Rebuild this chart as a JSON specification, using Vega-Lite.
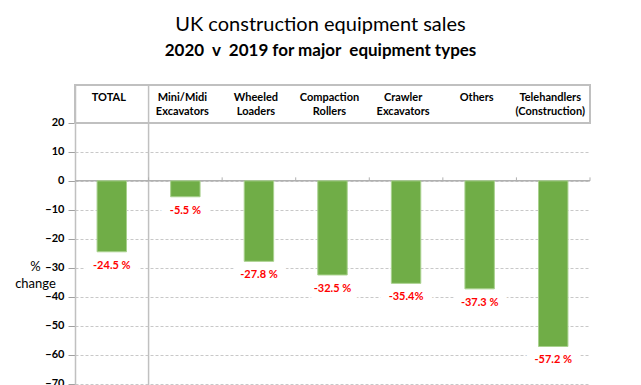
{
  "$schema": "https://vega.github.io/schema/vega-lite/v6.json",
  "autosize": "none",
  "width": 515,
  "height": 300,
  "padding": {"left": 75, "top": 85, "right": 51, "bottom": 0},
  "background": "white",
  "config": {"view": {"stroke": null}, "font": "Lato"},
  "title": {
    "text": "UK construction equipment sales",
    "subtitle": "2020\u00a0 v\u00a0 2019 for major\u00a0 equipment types",
    "fontSize": 20,
    "fontWeight": "normal",
    "font": "Lato",
    "subtitleFont": "Lato",
    "subtitleFontSize": 17,
    "subtitleFontWeight": "bold",
    "color": "black",
    "subtitleColor": "black",
    "anchor": "middle",
    "offset": 25,
    "subtitlePadding": 8,
    "dx": -12
  },
  "datasets": {
    "bars": [
      {"cat": "TOTAL", "value": -24.5, "label": "-24.5 %"},
      {"cat": "Mini/Midi Excavators", "value": -5.5, "label": "-5.5 %"},
      {"cat": "Wheeled Loaders", "value": -27.8, "label": "-27.8 %"},
      {"cat": "Compaction Rollers", "value": -32.5, "label": "-32.5 %"},
      {"cat": "Crawler Excavators", "value": -35.4, "label": "-35.4%"},
      {"cat": "Others", "value": -37.3, "label": "-37.3 %"},
      {"cat": "Telehandlers (Construction)", "value": -57.2, "label": "-57.2 %"}
    ]
  },
  "data": {"name": "bars"},
  "layer": [
    {
      "mark": {"type": "text", "baseline": "top", "dy": 8, "fontSize": 11, "fontWeight": "bold", "font": "Lato", "fill": "white", "stroke": "white", "strokeWidth": 18, "strokeJoin": "round"},
      "encoding": {
        "x": {
          "field": "cat",
          "type": "nominal",
          "sort": null,
          "scale": {"paddingInner": 0, "paddingOuter": 0},
          "axis": {
            "orient": "top",
            "title": null,
            "domain": false,
            "ticks": false,
            "tickSize": 0,
            "labelAngle": 0,
            "labelPadding": 0,
            "offset": -6,
            "labelBaseline": "top",
            "labelExpr": "split(datum.label, ' ')",
            "labelFont": "Lato",
            "labelFontSize": 11,
            "labelFontWeight": "bold",
            "labelColor": "black",
            "labelLineHeight": 14,
            "labelOffset": -3,
            "labelLimit": 200
          }
        },
        "y": {
          "field": "value",
          "type": "quantitative",
          "scale": {"domain": [-70.5, 33.1], "nice": false, "zero": false},
          "axis": {
            "values": [20, 10, 0, -10, -20, -30, -40, -50, -60, -70],
            "tickCount": 20,
            "labelOverlap": false,
            "title": ["%", "change"],
            "titleAngle": 0,
            "titleFont": "Lato",
            "titleFontSize": 13,
            "titleFontWeight": "normal",
            "titleColor": "black",
            "titleAlign": "center",
            "titleBaseline": "top",
            "titleX": -40,
            "titleY": 175,
            "titleLineHeight": 17,
            "labelFont": "Lato",
            "labelFontSize": 11,
            "labelFontWeight": "bold",
            "labelColor": "black",
            "labelPadding": 4,
            "tickSize": 7,
            "tickColor": "#a0a0a0",
            "domainColor": "#c0c0c0",
            "domainWidth": 1.5,
            "grid": true,
            "gridColor": "#c8c8c8",
            "gridDash": [3, 2],
            "gridWidth": 1
          }
        },
        "text": {"field": "label"}
      }
    },
    {
      "data": {"values": [{"top": 33.1, "bottom": 20}]},
      "mark": {"type": "rect", "fill": null, "stroke": "#c0c0c0", "strokeWidth": 2},
      "encoding": {
        "y": {"field": "top", "type": "quantitative"},
        "y2": {"field": "bottom"}
      }
    },
    {
      "data": {"values": [{"cat": "TOTAL"}]},
      "mark": {"type": "rule", "color": "#c0c0c0", "strokeWidth": 1.5},
      "encoding": {
        "x": {"field": "cat", "type": "nominal", "sort": null, "bandPosition": 1}
      }
    },
    {
      "data": {"values": [{"z": 0}]},
      "mark": {"type": "rule", "color": "#b0b0b0", "strokeWidth": 1.5},
      "encoding": {
        "y": {"field": "z", "type": "quantitative"}
      }
    },
    {
      "mark": {"type": "rule", "color": "#b0b0b0", "strokeWidth": 1},
      "encoding": {
        "x": {"field": "cat", "type": "nominal", "sort": null, "bandPosition": 1},
        "y": {"datum": 0},
        "y2": {"datum": 1.2}
      }
    },
    {
      "mark": {"type": "bar", "color": "#70AD47", "stroke": "#A9D18E", "strokeWidth": 1, "width": {"band": 0.4}},
      "encoding": {
        "x": {"field": "cat", "type": "nominal", "sort": null},
        "y": {"field": "value", "type": "quantitative"}
      }
    },
    {
      "mark": {"type": "text", "baseline": "top", "dy": 8, "fontSize": 11, "fontWeight": "bold", "font": "Lato", "color": "#FF0000"},
      "encoding": {
        "x": {"field": "cat", "type": "nominal", "sort": null},
        "y": {"field": "value", "type": "quantitative"},
        "text": {"field": "label"}
      }
    }
  ]
}
